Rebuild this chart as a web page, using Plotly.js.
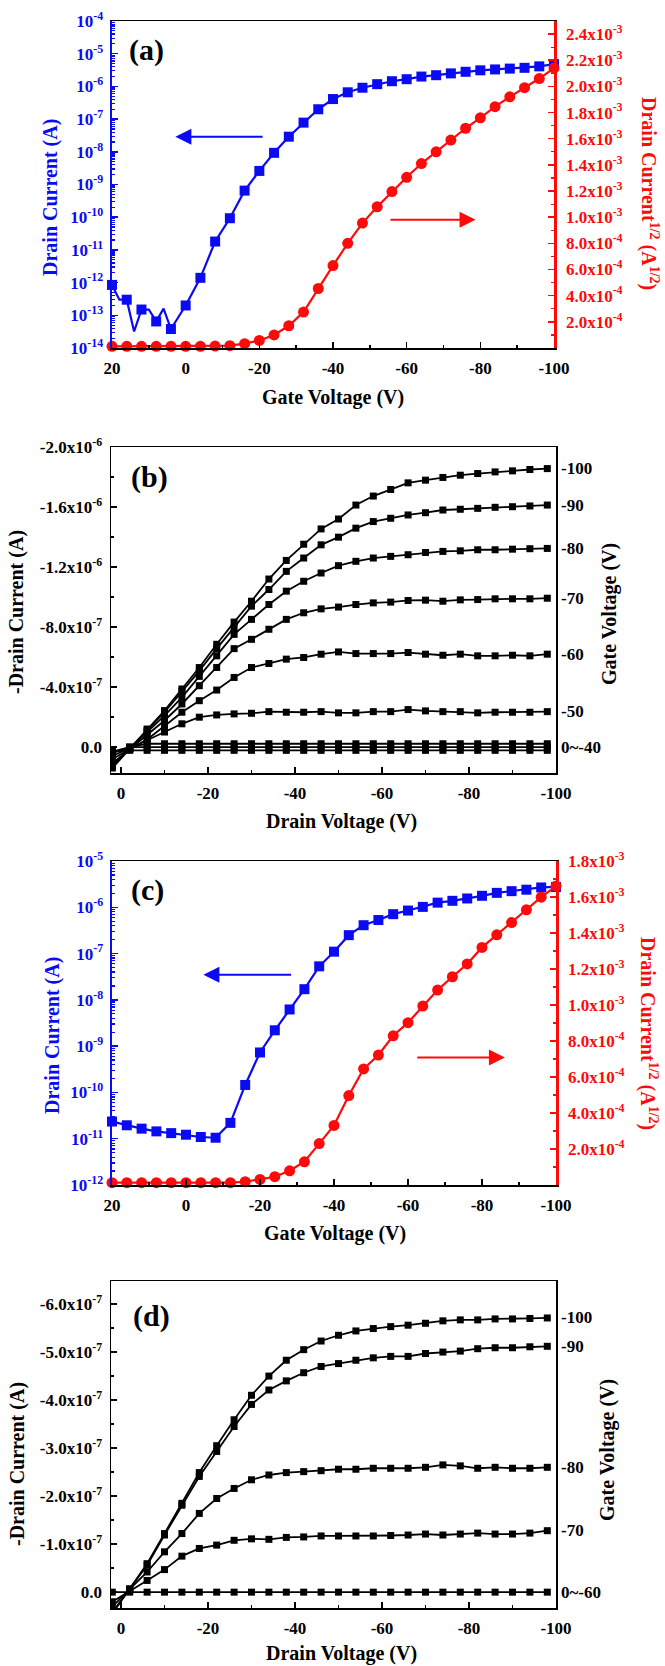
<!DOCTYPE html>
<html><head><meta charset="utf-8">
<script src="https://cdn.plot.ly/plotly-3.0.1.min.js"></script>
<style>body{margin:0;background:#fff}#chart{width:665px;height:1666px}</style>
</head><body><div id="chart"></div>
<script>
// ---------------- Panel (a): transfer curve ----------------
const vgA_log = [20,18,16,14,12,10,8,6,4,0,-4,-8,-12,-16,-20,-24,-28,-32,-36,-40,-44,-48,-52,-56,-60,-64,-68,-72,-76,-80,-84,-88,-92,-96,-100];
const idA = [8.5e-13,3.0e-13,3.0e-13,3.2e-14,1.5e-13,1.5e-13,6.5e-14,1.6e-13,3.8e-14,2.0e-13,1.4e-12,1.8e-11,9.3e-11,6.5e-10,2.6e-9,9.3e-9,2.9e-8,7.8e-8,2.0e-7,4.1e-7,6.6e-7,9.1e-7,1.17e-6,1.44e-6,1.66e-6,2.0e-6,2.2e-6,2.5e-6,2.8e-6,3.1e-6,3.3e-6,3.5e-6,3.7e-6,4.1e-6,4.8e-6];
const vgStep = [20,16,12,8,4,0,-4,-8,-12,-16,-20,-24,-28,-32,-36,-40,-44,-48,-52,-56,-60,-64,-68,-72,-76,-80,-84,-88,-92,-96,-100];
const sqrtA_milli = [0.013,0.013,0.013,0.013,0.013,0.013,0.013,0.015,0.018,0.033,0.058,0.10,0.17,0.275,0.455,0.63,0.80,0.955,1.08,1.196,1.305,1.41,1.50,1.59,1.68,1.76,1.845,1.92,1.99,2.06,2.14];

// ---------------- Panel (c): transfer curve ----------------
const idC = [2.35e-11,1.95e-11,1.65e-11,1.44e-11,1.32e-11,1.22e-11,1.09e-11,1.05e-11,2.2e-11,1.45e-10,7.3e-10,2.2e-9,6.2e-9,1.7e-8,5.3e-8,1.1e-7,2.5e-7,4.1e-7,5.3e-7,7.1e-7,8.5e-7,1.02e-6,1.26e-6,1.38e-6,1.55e-6,1.77e-6,2.05e-6,2.23e-6,2.4e-6,2.68e-6,2.75e-6];
const sqrtC_milli = [0.013,0.013,0.013,0.013,0.013,0.013,0.013,0.013,0.013,0.018,0.031,0.046,0.079,0.129,0.23,0.331,0.497,0.645,0.722,0.829,0.902,0.994,1.083,1.157,1.228,1.32,1.39,1.458,1.529,1.599,1.661];

// ---------------- Panel (b): output curves (values in 1e-6 A) ----------------
const vd = [2,-2,-6,-10,-14,-18,-22,-26,-30,-34,-38,-42,-46,-50,-54,-58,-62,-66,-70,-74,-78,-82,-86,-90,-94,-98];
const gateLabelsB = ["-100","-90","-80","-70","-60","-50","0~-40"];
const idB_m100 = [0.14,0.01,-0.12,-0.243,-0.387,-0.53,-0.685,-0.833,-0.972,-1.12,-1.244,-1.352,-1.454,-1.52,-1.613,-1.673,-1.717,-1.761,-1.779,-1.797,-1.812,-1.823,-1.834,-1.841,-1.85,-1.856];
const idB_m90 = [0.13,0.01,-0.11,-0.232,-0.369,-0.508,-0.656,-0.796,-0.939,-1.05,-1.171,-1.26,-1.348,-1.399,-1.459,-1.503,-1.525,-1.547,-1.562,-1.58,-1.585,-1.591,-1.598,-1.602,-1.607,-1.613];
const idB_m80 = [0.12,0.01,-0.10,-0.21,-0.331,-0.471,-0.608,-0.751,-0.851,-0.95,-1.039,-1.105,-1.16,-1.209,-1.238,-1.26,-1.271,-1.282,-1.297,-1.304,-1.308,-1.315,-1.315,-1.319,-1.322,-1.324];
const idB_m70 = [0.11,0.015,-0.077,-0.177,-0.287,-0.409,-0.53,-0.656,-0.718,-0.785,-0.851,-0.895,-0.921,-0.933,-0.95,-0.961,-0.966,-0.977,-0.979,-0.972,-0.981,-0.983,-0.988,-0.988,-0.988,-0.992];
const idB_m60 = [0.08,0.015,-0.05,-0.14,-0.232,-0.309,-0.38,-0.464,-0.53,-0.557,-0.586,-0.597,-0.619,-0.634,-0.623,-0.623,-0.623,-0.63,-0.619,-0.612,-0.619,-0.608,-0.608,-0.612,-0.608,-0.619];
const idB_m50 = [0.06,0.01,-0.045,-0.10,-0.155,-0.199,-0.214,-0.221,-0.225,-0.236,-0.232,-0.232,-0.236,-0.228,-0.228,-0.236,-0.236,-0.25,-0.241,-0.236,-0.236,-0.228,-0.232,-0.232,-0.232,-0.236];
const idB_m40 = [0.04,0.0,-0.022,-0.022,-0.022,-0.022,-0.022,-0.022,-0.022,-0.022,-0.022,-0.022,-0.022,-0.022,-0.022,-0.022,-0.022,-0.022,-0.022,-0.022,-0.022,-0.022,-0.022,-0.022,-0.022,-0.022];
const idB_m30 = [0.03,0.0,0.0,0.0,0.0,0.0,0.0,0.0,0.0,0.0,0.0,0.0,0.0,0.0,0.0,0.0,0.0,0.0,0.0,0.0,0.0,0.0,0.0,0.0,0.0,0.0];
const idB_m20 = [0.03,0.022,0.022,0.022,0.022,0.022,0.022,0.022,0.022,0.022,0.022,0.022,0.022,0.022,0.022,0.022,0.022,0.022,0.022,0.022,0.022,0.022,0.022,0.022,0.022,0.022];

// ---------------- Panel (d): output curves (values in 1e-7 A) ----------------
const gateLabelsD = ["-100","-90","-80","-70","0~-60"];
const idD_m100 = [0.45,-0.07,-0.593,-1.22,-1.85,-2.49,-3.05,-3.59,-4.10,-4.50,-4.83,-5.05,-5.23,-5.35,-5.44,-5.49,-5.53,-5.56,-5.60,-5.65,-5.67,-5.67,-5.69,-5.69,-5.70,-5.71];
const idD_m90 = [0.42,-0.06,-0.56,-1.19,-1.81,-2.41,-2.93,-3.45,-3.91,-4.21,-4.40,-4.57,-4.70,-4.76,-4.83,-4.88,-4.91,-4.91,-4.97,-5.00,-5.02,-5.07,-5.09,-5.09,-5.11,-5.12];
const idD_m80 = [0.30,-0.05,-0.42,-0.84,-1.22,-1.64,-1.95,-2.16,-2.34,-2.44,-2.49,-2.51,-2.53,-2.56,-2.56,-2.58,-2.58,-2.58,-2.60,-2.65,-2.63,-2.58,-2.60,-2.58,-2.58,-2.60];
const idD_m70 = [0.20,-0.03,-0.244,-0.47,-0.75,-0.91,-0.98,-1.08,-1.11,-1.10,-1.14,-1.15,-1.17,-1.17,-1.17,-1.17,-1.18,-1.19,-1.21,-1.19,-1.21,-1.23,-1.21,-1.21,-1.23,-1.28];
const idD_m60 = [0.0,0.0,0.0,0.0,0.0,0.0,0.0,0.0,0.0,0.0,0.0,0.0,0.0,0.0,0.0,0.0,0.0,0.0,0.0,0.0,0.0,0.0,0.0,0.0,0.0,0.0];

// ---------------- Tick labels ----------------
const xTicksTransfer = [20,0,-20,-40,-60,-80,-100];
const xTicksOutput = [0,-20,-40,-60,-80,-100];
const logTicksA = [-14,-13,-12,-11,-10,-9,-8,-7,-6,-5,-4];
const logTicksC = [-12,-11,-10,-9,-8,-7,-6,-5];
const sqrtTicksA = [2,4,6,8,10,12,14,16,18,20,22,24];   // x1e-4
const sqrtTicksC = [2,4,6,8,10,12,14,16,18];
const yTicksB = [-2.0,-1.6,-1.2,-0.8,-0.4,0.0];          // x1e-6
const yTicksD = [-6,-5,-4,-3,-2,-1,0];                  // x1e-7

// ---------------- helpers ----------------
const FONT = 'Liberation Serif, Times New Roman, serif';
const BLUE = '#0a0af5', RED = '#ff0a0a', BLACK = '#000';
const W = 665, H = 1666;
const px = x => x / W, py = y => 1 - y / H;

function sciLabel(m, e) { return m.toFixed(1) + 'x10<sup>' + e + '</sup>'; }
function sqrtLabel(v) { return v >= 10 ? sciLabel(v / 10, -3) : sciLabel(v, -4); }
function bLabel(v) {
  if (v === 0) return '0.0';
  if (Math.abs(v) >= 1) return sciLabel(v, -6);
  return sciLabel(v * 10, -7);
}
function dLabel(v) { return v === 0 ? '0.0' : sciLabel(v, -7); }
const scale = (arr, f) => arr.map(v => v * f);

const tickFont = c => ({family: FONT, size: 17, color: c, weight: 'bold'});

function xAxis(domain, anchor, range, ticks) {
  return {
    domain, anchor, range, type: 'linear', autorange: false,
    tickmode: 'array', tickvals: ticks, ticktext: ticks.map(String),
    ticks: 'inside', ticklen: 6, tickwidth: 1.5, tickcolor: BLACK,
    minor: {ticks: 'inside', ticklen: 3, tickwidth: 1.5, tickcolor: BLACK, tickmode: 'linear', tick0: 0, dtick: 10, showgrid: false},
    showline: true, linecolor: BLACK, linewidth: 1.5, mirror: true,
    showgrid: false, zeroline: false, tickfont: tickFont(BLACK), ticklabelstandoff: 4
  };
}

const traces = [];
// (a): line through every measured point, square markers at the 4 V grid
traces.push({x: vgA_log, y: idA, xaxis: 'x', yaxis: 'y', type: 'scatter', mode: 'lines',
  line: {color: BLUE, width: 2.2}});
const aMarkIdx = vgA_log.map((v, i) => i).filter(i => vgA_log[i] % 4 === 0);
traces.push({x: aMarkIdx.map(i => vgA_log[i]), y: aMarkIdx.map(i => idA[i]), xaxis: 'x', yaxis: 'y', type: 'scatter', mode: 'markers',
  marker: {symbol: 'square', size: 10, color: BLUE}, cliponaxis: false});
traces.push({x: vgStep, y: scale(sqrtA_milli, 1e-3), xaxis: 'x', yaxis: 'y2', type: 'scatter', mode: 'lines+markers',
  line: {color: RED, width: 2.2}, marker: {symbol: 'circle', size: 11, color: RED}, cliponaxis: false});
// (b)
const bSeries = [idB_m100, idB_m90, idB_m80, idB_m70, idB_m60, idB_m50, idB_m40, idB_m30, idB_m20];
bSeries.forEach(s => traces.push({x: vd, y: scale(s, 1e-6), xaxis: 'x2', yaxis: 'y3', type: 'scatter', mode: 'lines+markers',
  line: {color: BLACK, width: 1.8}, marker: {symbol: 'square', size: 7, color: BLACK}}));
// (c)
traces.push({x: vgStep, y: idC, xaxis: 'x3', yaxis: 'y4', type: 'scatter', mode: 'lines+markers',
  line: {color: BLUE, width: 2.2}, marker: {symbol: 'square', size: 10, color: BLUE}, cliponaxis: false});
traces.push({x: vgStep, y: scale(sqrtC_milli, 1e-3), xaxis: 'x3', yaxis: 'y5', type: 'scatter', mode: 'lines+markers',
  line: {color: RED, width: 2.2}, marker: {symbol: 'circle', size: 11, color: RED}, cliponaxis: false});
// (d)
const dSeries = [idD_m100, idD_m90, idD_m80, idD_m70, idD_m60];
dSeries.forEach(s => traces.push({x: vd, y: scale(s, 1e-7), xaxis: 'x4', yaxis: 'y6', type: 'scatter', mode: 'lines+markers',
  line: {color: BLACK, width: 1.8}, marker: {symbol: 'square', size: 7, color: BLACK}}));

const xDomT = [px(112), px(554)], xDomO = [px(111), px(556)], xDomC = [px(112), px(556)];
const domA = [py(348), py(21)], domB = [py(773), py(447)], domC = [py(1185), py(861)], domD = [py(1608), py(1281)];

function logAxis(domain, anchor, range, ticks) {
  return {domain, anchor, type: 'log', range, autorange: false,
    tickmode: 'array', tickvals: ticks.map(e => Math.pow(10, e)), ticktext: ticks.map(e => '10<sup>' + e + '</sup>'),
    ticks: 'inside', ticklen: 6, tickwidth: 1.5, tickcolor: BLUE,
    minor: {ticks: 'inside', ticklen: 3, tickwidth: 1.2, tickcolor: BLUE, dtick: 'D1', showgrid: false},
    showline: true, linecolor: BLUE, linewidth: 2.5, showgrid: false, zeroline: false,
    tickfont: tickFont(BLUE), ticklabelstandoff: 3};
}
function sqrtAxis(over, anchor, range, ticks) {
  return {overlaying: over, anchor, side: 'right', range, autorange: false,
    tickmode: 'array', tickvals: scale(ticks, 1e-4), ticktext: ticks.map(sqrtLabel),
    ticks: 'inside', ticklen: 6, tickwidth: 1.5, tickcolor: RED,
    minor: {ticks: 'inside', ticklen: 3, tickwidth: 1.2, tickcolor: RED, tickmode: 'linear', tick0: 0, dtick: 1e-4, showgrid: false},
    showline: true, linecolor: RED, linewidth: 2.5, showgrid: false, zeroline: false,
    tickfont: tickFont(RED), ticklabelstandoff: 6};
}
function linAxis(domain, anchor, range, vals, text, minorStep) {
  return {domain, anchor, range, autorange: false,
    tickmode: 'array', tickvals: vals, ticktext: text,
    ticks: 'inside', ticklen: 6, tickwidth: 1.5, tickcolor: BLACK,
    minor: {ticks: 'inside', ticklen: 3, tickwidth: 1.5, tickcolor: BLACK, tickmode: 'linear', tick0: 0, dtick: minorStep, showgrid: false},
    showline: true, linecolor: BLACK, linewidth: 1.5, mirror: true, showgrid: false, zeroline: false,
    tickfont: tickFont(BLACK), ticklabelstandoff: 4};
}

const layout = {
  width: W, height: H, margin: {l: 0, r: 0, t: 0, b: 0},
  paper_bgcolor: '#fff', plot_bgcolor: 'rgba(0,0,0,0)', showlegend: false,
  font: {family: FONT, size: 17, color: BLACK},
  xaxis: xAxis(xDomT, 'y', [20, -100], xTicksTransfer),
  yaxis: logAxis(domA, 'x', [-14, -4], logTicksA),
  yaxis2: sqrtAxis('y', 'x', [0, 2.5e-3], sqrtTicksA),
  xaxis2: xAxis(xDomO, 'y3', [2.3, -100], xTicksOutput),
  yaxis3: linAxis(domB, 'x2', [0.173e-6, -2.0e-6], scale(yTicksB, 1e-6), yTicksB.map(bLabel), 2e-7),
  xaxis3: xAxis(xDomC, 'y4', [20, -100], xTicksTransfer),
  yaxis4: logAxis(domC, 'x3', [-12, -5], logTicksC),
  yaxis5: sqrtAxis('y4', 'x3', [0, 1.8e-3], sqrtTicksC),
  xaxis4: xAxis(xDomO, 'y6', [2.3, -100], xTicksOutput),
  yaxis6: linAxis(domD, 'x4', [0.33e-7, -6.48e-7], scale(yTicksD, 1e-7), yTicksD.map(dLabel), 5e-8),
  annotations: []
};

const ann = layout.annotations;
function txt(text, x, y, opts) {
  ann.push(Object.assign({text, xref: 'paper', yref: 'paper', x: px(x), y: py(y), showarrow: false,
    xanchor: 'center', yanchor: 'middle', font: {family: FONT, size: 20, color: BLACK, weight: 'bold'}}, opts || {}));
}
const titleFont = c => ({family: FONT, size: 20, color: c, weight: 'bold'});
const panelFont = {family: FONT, size: 30, color: BLACK, weight: 'bold'};
txt('(a)', 146, 50, {font: panelFont});
txt('(b)', 149, 477, {font: panelFont});
txt('(c)', 147, 890, {font: panelFont});
txt('(d)', 151, 1316, {font: panelFont});
txt('Drain Current (A)', 50, 198, {textangle: -90, font: titleFont(BLUE)});
txt('Drain Current<sup>1/2</sup> (A<sup>1/2</sup>)', 649, 193, {textangle: 90, font: titleFont(RED)});
txt('Gate Voltage (V)', 333, 397, {font: titleFont(BLACK)});
txt('-Drain Current (A)', 17, 612, {textangle: -90, font: titleFont(BLACK)});
txt('Drain Voltage (V)', 341, 822, {font: titleFont(BLACK)});
txt('Gate Voltage (V)', 609, 614, {textangle: -90, font: titleFont(BLACK)});
txt('Drain Current (A)', 52, 1036, {textangle: -90, font: titleFont(BLUE)});
txt('Drain Current<sup>1/2</sup> (A<sup>1/2</sup>)', 649, 1033, {textangle: 90, font: titleFont(RED)});
txt('Gate Voltage (V)', 335, 1233, {font: titleFont(BLACK)});
txt('-Drain Current (A)', 17, 1464, {textangle: -90, font: titleFont(BLACK)});
txt('Drain Voltage (V)', 341, 1653, {font: titleFont(BLACK)});
txt('Gate Voltage (V)', 607, 1450, {textangle: -90, font: titleFont(BLACK)});

const bLabelSeries = [idB_m100, idB_m90, idB_m80, idB_m70, idB_m60, idB_m50, idB_m30];
bLabelSeries.forEach((s, i) => ann.push({text: gateLabelsB[i], xref: 'paper', yref: 'y3', x: px(559), y: s[s.length - 1] * 1e-6,
  xanchor: 'left', yanchor: 'middle', showarrow: false, font: tickFont(BLACK)}));
dSeries.forEach((s, i) => ann.push({text: gateLabelsD[i], xref: 'paper', yref: 'y6', x: px(559), y: s[s.length - 1] * 1e-7,
  xanchor: 'left', yanchor: 'middle', showarrow: false, font: tickFont(BLACK)}));

function arrow(xref, yref, x, y, ax, ay, color) {
  ann.push({xref, yref, axref: xref, ayref: yref, x, y, ax, ay, text: '', showarrow: true,
    arrowhead: 2, arrowsize: 1.6, arrowwidth: 2, arrowcolor: color});
}
arrow('x', 'y', 2.8, Math.log10(2.9e-8), -21.3, Math.log10(2.9e-8), BLUE);
arrow('x', 'y2', -78.7, 0.98e-3, -55.2, 0.98e-3, RED);
arrow('x3', 'y4', -4.7, Math.log10(3.5e-8), -28.8, Math.log10(3.5e-8), BLUE);
arrow('x3', 'y5', -86.2, 0.709e-3, -62.1, 0.709e-3, RED);

Plotly.newPlot('chart', traces, layout, {displayModeBar: false, staticPlot: true});
</script>
</body></html>
